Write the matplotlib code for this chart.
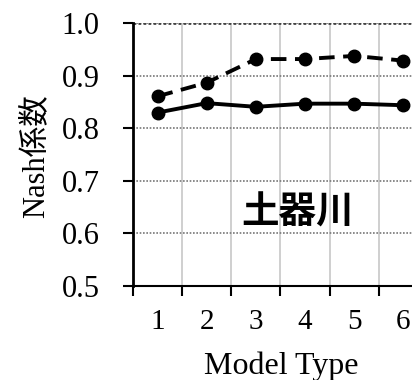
import matplotlib
matplotlib.use("Agg")
import matplotlib.pyplot as plt
import numpy as np

# Nash coefficients per model type
model_types = [1, 2, 3, 4, 5, 6]
nash_solid = [0.830, 0.848, 0.841, 0.847, 0.847, 0.844]
nash_dashed = [0.861, 0.887, 0.932, 0.932, 0.938, 0.929]
y_ticks = [0.5, 0.6, 0.7, 0.8, 0.9, 1.0]
river_name = "土器川"

serif = ['Liberation Serif', 'Noto Sans CJK JP']

fig = plt.figure(figsize=(4.12, 3.8), dpi=100)
# plot area extends past the right edge (cropped like the original)
ax = fig.add_axes([0.3228, 0.248, 0.835, 0.6905])

ax.plot(model_types, nash_solid, color='black', lw=2.8, marker='o', ms=9,
        solid_capstyle='round', zorder=3)
ax.plot(model_types, nash_dashed, color='black', lw=2.8, marker='o', ms=9,
        dashes=(4, 2.2), zorder=3)

ax.set_xlim(0.5, 7.5)
ax.set_ylim(0.5, 1.0)
ax.set_yticks(y_ticks)
ax.set_yticklabels([f"{v:.1f}" for v in y_ticks], family=serif, fontsize=22)
ax.set_xticks(model_types)
ax.set_xticklabels([str(m) for m in model_types], family=serif, fontsize=21)
ax.tick_params(axis='x', length=0, pad=17)
ax.tick_params(axis='y', length=7, width=1.5, direction='out', pad=17)

# category boundaries: light vertical grid + tick marks on the bottom axis
bounds = np.arange(0.5, 7.5, 1.0)
for b in bounds[1:]:
    ax.axvline(b, color='#cccccc', lw=1.3, zorder=1)
ax.set_xticks(bounds, minor=True)
ax.tick_params(axis='x', which='minor', length=7, width=1.5, direction='out')

for v in y_ticks[1:]:
    ax.axhline(v, color='#777777', lw=1.2, ls=(0, (1, 1)), zorder=1)
ax.axhline(1.0, color='#444444', lw=2.0, ls=(0, (1, 0.8)), zorder=1)

for side in ['top', 'right']:
    ax.spines[side].set_visible(False)
ax.spines['left'].set_linewidth(2)
ax.spines['bottom'].set_linewidth(1.5)

ax.set_ylabel("Nash係数", family=serif, fontsize=22, va='center')
ax.yaxis.set_label_coords(-0.282, 0.494)
ax.set_xlabel("Model Type", family=serif, fontsize=23, va='center')
ax.xaxis.set_label_coords(0.43, -0.305)

ax.text(3.85, 0.64, river_name, family=['Noto Sans CJK JP'], fontweight='bold',
        fontsize=27, ha='center', va='center')

fig.savefig("out.png", dpi=100)
